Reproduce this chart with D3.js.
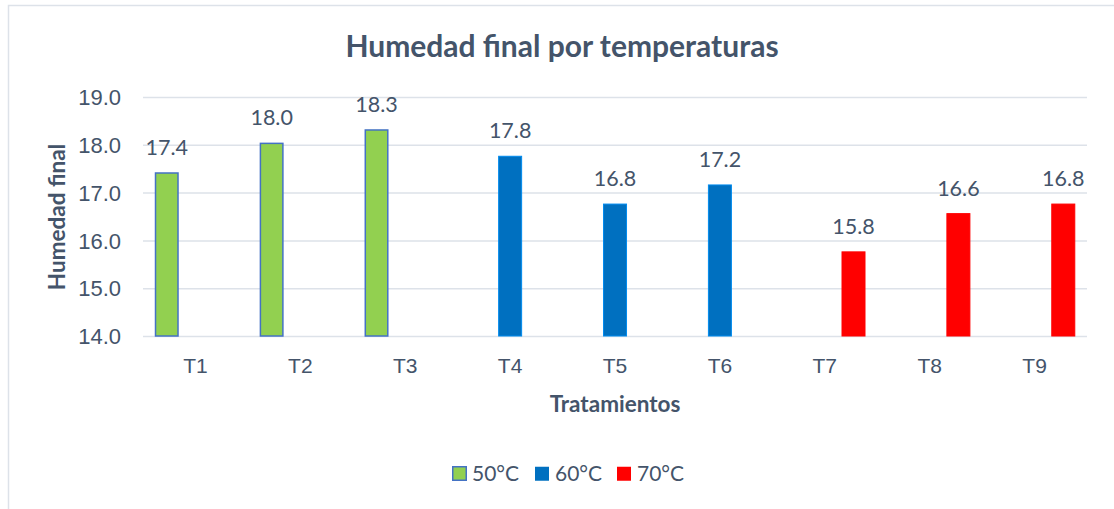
<!DOCTYPE html>
<html>
<head>
<meta charset="utf-8">
<script src="https://cdn.jsdelivr.net/npm/d3@7"></script>
<style>
  html, body { margin: 0; padding: 0; background: #fff; }
  svg { display: block; font-family: Lato, "Open Sans", sans-serif; }
</style>
</head>
<body>
<svg id="chart" width="1114" height="509"></svg>
<script>
const categories = ["T1", "T2", "T3", "T4", "T5", "T6", "T7", "T8", "T9"];
const seriesNames = ["50°C", "60°C", "70°C"];
const values50 = [17.41, 18.03, 18.31, null, null, null, null, null, null];
const values60 = [null, null, null, 17.76, 16.76, 17.16, null, null, null];
const values70 = [null, null, null, null, null, null, 15.76, 16.56, 16.76];
const yTicks = [14, 15, 16, 17, 18, 19];

const titleText = "Humedad final por temperaturas";
const xTitle = "Tratamientos";
const yTitle = "Humedad final";

const fills = ["#92D050", "#0070C0", "#FF0000"];
const strokes = ["#4472C4", "#0070C0", "#FF0000"];
const textColor = "#44546A";
const gridColor = "#DDE2E9";

const seriesData = [values50, values60, values70];

const svg = d3.select("#chart");
const W = 1114, H = 509;
const plot = { left: 143, right: 1087, top: 97, bottom: 336 };

// chart border
svg.append("rect")
  .attr("x", 8.5).attr("y", 5.5)
  .attr("width", W + 20).attr("height", H + 20)
  .attr("fill", "#fff").attr("stroke", "#DDE2E9").attr("stroke-width", 1.5);

const x0 = d3.scaleBand().domain(categories).range([plot.left, plot.right]).padding(0);
const cw = x0.bandwidth();
const x1 = d3.scaleBand().domain(seriesNames)
  .range([cw * 0.0897, cw * 0.0897 + cw * 0.821])
  .paddingInner(0.164).paddingOuter(0.082);
const y = d3.scaleLinear().domain([14, 19]).range([plot.bottom, plot.top]);

// gridlines
const yAxis = d3.axisLeft(y).tickValues(yTicks).tickSize(-(plot.right - plot.left)).tickFormat(d3.format(".1f")).tickPadding(22);
const gy = svg.append("g").attr("transform", `translate(${plot.left},0)`).call(yAxis);
gy.select(".domain").remove();
gy.selectAll(".tick line").attr("stroke", gridColor).attr("stroke-width", 1.5);
gy.selectAll(".tick text").attr("fill", textColor).attr("font-size", 22).attr("dy", "0.35em");

// x axis labels
const xAxis = d3.axisBottom(x0).tickSize(0).tickPadding(22);
const gx = svg.append("g").attr("transform", `translate(0,${plot.bottom})`).call(xAxis);
gx.select(".domain").remove();
gx.selectAll(".tick text").attr("fill", textColor).attr("font-size", 21).attr("dy", "0.71em");

// bars
seriesNames.forEach((s, si) => {
  const vals = seriesData[si];
  const g = svg.append("g");
  const pts = categories.map((c, i) => ({ c, v: vals[i] })).filter(d => d.v != null);
  g.selectAll("rect").data(pts).enter().append("rect")
    .attr("x", d => x0(d.c) + x1(s) + (si === 0 ? 0.75 : 0.5))
    .attr("y", d => y(d.v))
    .attr("width", x1.bandwidth() - (si === 0 ? 1.5 : 1))
    .attr("height", d => y(14) - y(d.v))
    .attr("fill", fills[si])
    .attr("stroke", si === 0 ? strokes[si] : d3.color(fills[si]).brighter(0.6))
    .attr("stroke-width", si === 0 ? 1.5 : 1);
  g.selectAll("text").data(pts).enter().append("text")
    .attr("x", d => x0(d.c) + x1(s) + x1.bandwidth() / 2)
    .attr("y", d => y(d.v) - 18)
    .attr("text-anchor", "middle")
    .attr("fill", textColor)
    .attr("font-size", 21.5)
    .text(d => d3.format(".1f")(d.v));
});

// title
svg.append("text").attr("x", 562).attr("y", 57).attr("text-anchor", "middle")
  .attr("fill", textColor).attr("font-size", 30).attr("font-weight", "bold").text(titleText);

// axis titles
svg.append("text").attr("x", 615).attr("y", 412).attr("text-anchor", "middle")
  .attr("fill", textColor).attr("font-size", 22.5).attr("font-weight", "bold").text(xTitle);
svg.append("text").attr("transform", "translate(65,217) rotate(-90)").attr("text-anchor", "middle")
  .attr("fill", textColor).attr("font-size", 22.5).attr("font-weight", "bold").text(yTitle);

// legend
const legendX = [452, 535, 617];
const lg = svg.append("g");
seriesNames.forEach((s, si) => {
  lg.append("rect").attr("x", legendX[si] + (si === 0 ? 0.75 : 0)).attr("y", 466.75)
    .attr("width", si === 0 ? 13.5 : 14).attr("height", si === 0 ? 13.5 : 14)
    .attr("fill", fills[si]).attr("stroke", si === 0 ? strokes[si] : "none").attr("stroke-width", 1.5);
  lg.append("text").attr("x", legendX[si] + 20).attr("y", 481)
    .attr("fill", textColor).attr("font-size", 21).text(s);
});
</script>
</body>
</html>
